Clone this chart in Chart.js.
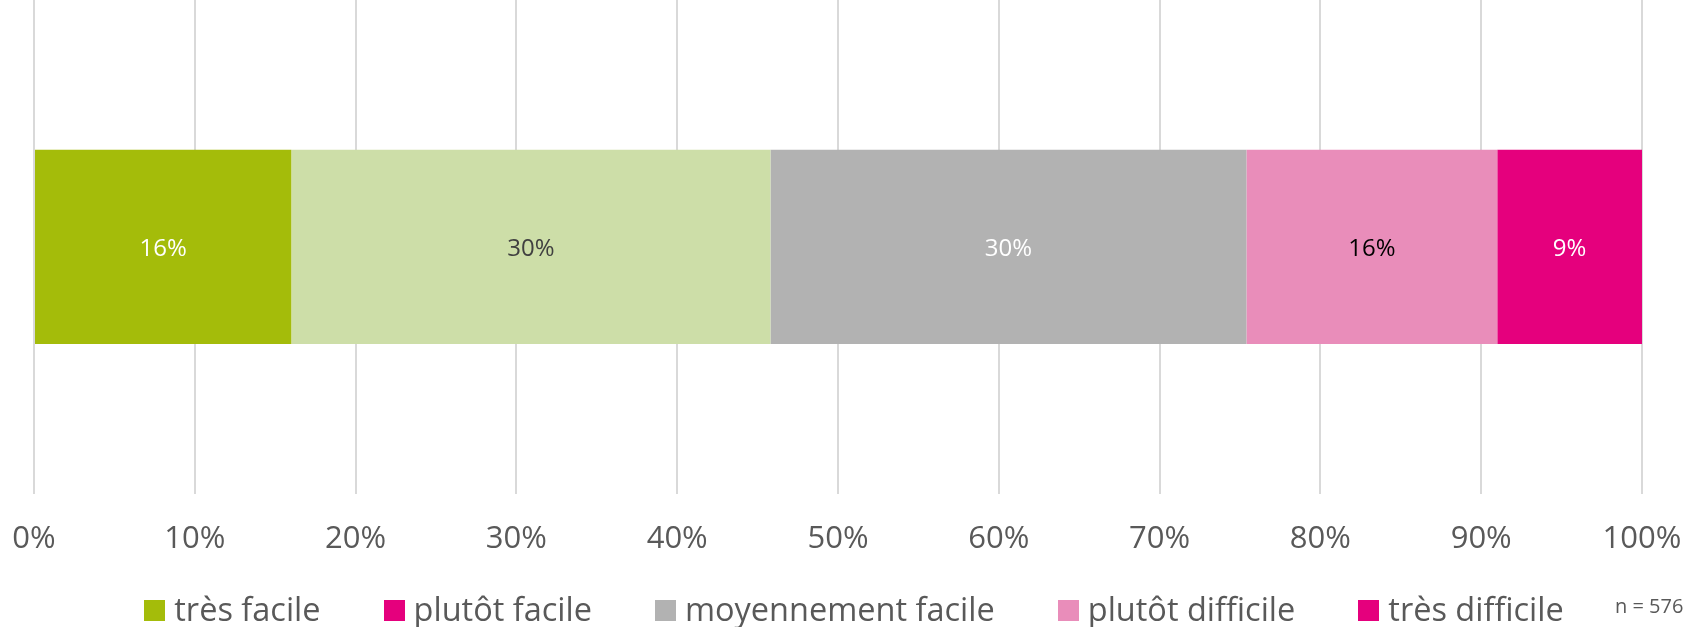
<!DOCTYPE html>
<html>
<head>
<meta charset="utf-8">
<script src="https://cdn.jsdelivr.net/npm/chart.js@4"></script>
<style>
  html, body { margin: 0; padding: 0; background: #ffffff; }
  #wrap { width: 1698px; height: 627px; }
</style>
</head>
<body>
<div id="wrap"><canvas id="c" width="1698" height="627"></canvas></div>
<script>
const categories = [''];
const seriesNames = ['très facile', 'plutôt facile', 'moyennement facile', 'plutôt difficile', 'très difficile'];
const tresFacile = [16.0];
const plutotFacile = [29.8];
const moyennementFacile = [29.6];
const plutotDifficile = [15.6];
const tresDifficile = [9.0];
const valueLabels = ['16%', '30%', '30%', '16%', '9%'];
const tickValues = [0, 10, 20, 30, 40, 50, 60, 70, 80, 90, 100];
const sampleNote = 'n = 576';

const barColors = ['#a4bc0a', '#cddea8', '#b2b2b2', '#e98dba', '#e5007d'];
const legendColors = ['#a4bc0a', '#e5007d', '#b2b2b2', '#e98dba', '#e5007d'];
const labelColors = ['#ffffff', '#404040', '#ffffff', '#000000', '#ffffff'];
const FONT = "'Open Sans', sans-serif";

const seriesData = [tresFacile, plutotFacile, moyennementFacile, plutotDifficile, tresDifficile];

const valueLabelPlugin = {
  id: 'valueLabels',
  afterDatasetsDraw(chart) {
    const ctx = chart.ctx;
    ctx.save();
    ctx.font = '24px ' + FONT;
    ctx.textAlign = 'center';
    ctx.textBaseline = 'middle';
    chart.data.datasets.forEach((ds, i) => {
      const meta = chart.getDatasetMeta(i);
      meta.data.forEach((el) => {
        const p = el.getCenterPoint();
        ctx.fillStyle = labelColors[i];
        ctx.fillText(valueLabels[i], p.x, p.y + 2);
      });
    });
    ctx.restore();
  }
};

// Legend drawn below the axis: box, gap, text; items centred as a row
const legendPlugin = {
  id: 'customLegend',
  afterDraw(chart) {
    const ctx = chart.ctx;
    const box = 21, boxGap = 9, itemGap = 63, centerX = 854, centerY = 610.5;
    ctx.save();
    ctx.font = '32.5px ' + FONT;
    ctx.textBaseline = 'middle';
    ctx.textAlign = 'left';
    const widths = seriesNames.map(n => ctx.measureText(n).width);
    const total = widths.reduce((a, w) => a + box + boxGap + w, 0) + itemGap * (seriesNames.length - 1);
    let x = centerX - total / 2;
    seriesNames.forEach((name, i) => {
      ctx.fillStyle = legendColors[i];
      ctx.fillRect(Math.round(x), Math.round(centerY - box / 2), box, box);
      ctx.fillStyle = '#595959';
      ctx.fillText(name, x + box + boxGap, centerY + 1);
      x += box + boxGap + widths[i] + itemGap;
    });
    ctx.font = '20px ' + FONT;
    ctx.textBaseline = 'alphabetic';
    ctx.fillText(sampleNote, 1615, 613);
    ctx.restore();
  }
};

new Chart(document.getElementById('c'), {
  type: 'bar',
  data: {
    labels: categories,
    datasets: seriesNames.map((name, i) => ({
      label: name,
      data: seriesData[i],
      backgroundColor: barColors[i],
      borderWidth: 0,
      barPercentage: 1.0,
      categoryPercentage: 0.393
    }))
  },
  options: {
    indexAxis: 'y',
    responsive: false,
    animation: false,
    devicePixelRatio: 1,
    layout: { padding: { left: 34, right: 56, top: 0, bottom: 65 } },
    scales: {
      x: {
        stacked: true,
        min: 0,
        max: 100,
        afterBuildTicks(axis) { axis.ticks = tickValues.map(v => ({ value: v })); },
        ticks: {
          callback: (v) => v + '%',
          color: '#595959',
          font: { family: FONT, size: 31 },
          padding: 4,
          maxRotation: 0
        },
        grid: { color: '#d9d9d9', lineWidth: 2, drawTicks: true, tickLength: 23, tickColor: 'rgba(0,0,0,0)' },
        border: { display: false }
      },
      y: {
        stacked: true,
        display: false
      }
    },
    plugins: {
      legend: { display: false },
      tooltip: { enabled: false }
    }
  },
  plugins: [valueLabelPlugin, legendPlugin]
});
</script>
</body>
</html>
